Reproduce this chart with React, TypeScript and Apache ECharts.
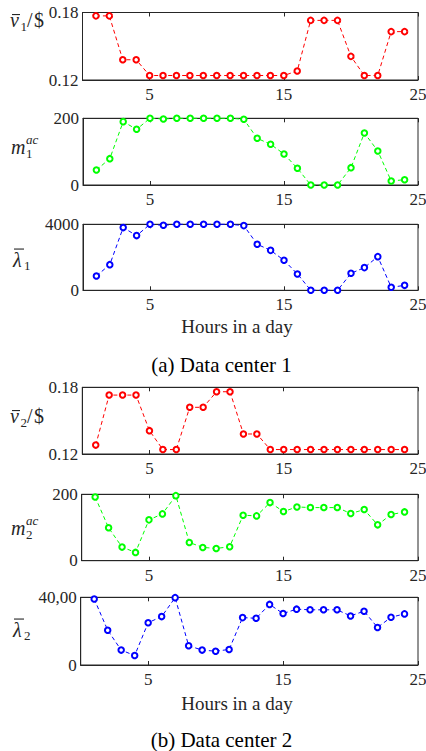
import React, { useEffect, useRef } from "react";
import * as echarts from "echarts";

// ---------- data ----------
const hours = [1, 2, 3, 4, 5, 6, 7, 8, 9, 10, 11, 12, 13, 14, 15, 16, 17, 18, 19, 20, 21, 22, 23, 24];

const price1 = [0.177, 0.177, 0.138, 0.138, 0.124, 0.124, 0.124, 0.124, 0.124, 0.124, 0.124, 0.124, 0.124, 0.124, 0.124, 0.128, 0.173, 0.173, 0.173, 0.141, 0.124, 0.124, 0.163, 0.163];
const ac1 = [45, 79, 190, 167, 200, 198, 200, 200, 200, 200, 200, 197, 140, 122, 93, 50, 0, 0, 0, 52, 156, 102, 12, 16];
const lambda1 = [870, 1555, 3800, 3315, 4000, 3940, 4000, 4000, 4000, 4000, 4000, 3920, 2790, 2420, 1820, 990, 0, 0, 0, 1030, 1375, 2040, 180, 300];

const price2 = [0.128, 0.173, 0.173, 0.173, 0.141, 0.124, 0.124, 0.162, 0.162, 0.176, 0.176, 0.138, 0.138, 0.124, 0.124, 0.124, 0.124, 0.124, 0.124, 0.124, 0.124, 0.124, 0.124, 0.124];
const ac2 = [192, 99, 41, 25, 123, 141, 196, 55, 40, 37, 42, 137, 135, 175, 148, 162, 160, 160, 160, 142, 154, 108, 139, 147];
const lambda2 = [3900, 2057, 880, 560, 2500, 2860, 3980, 1140, 880, 816, 918, 2800, 2760, 3580, 3040, 3300, 3260, 3260, 3260, 2900, 3180, 2220, 2820, 3020];

const xTickValues = [5, 15, 25];
const priceTicks = [0.12, 0.18];
const priceTickLabels = ["0.12", "0.18"];
const acTicks = [0, 200];
const acTickLabels = ["0", "200"];
const lambdaTicks = [0, 4000];
const lambda1TickLabels = ["0", "4000"];
const lambda2TickLabels = ["0", "40,00"];

const xAxisTitle = "Hours in a day";
const captions = ["(a) Data center 1", "(b) Data center 2"];

// ---------- layout / style ----------
const SERIF = "Liberation Serif";
const INK = "#262626";
const RIGHT = 418;

const panels = [
  { data: price1, color: "#ff0000", ticks: priceTicks, labels: priceTickLabels, left: 82.5, top: 12.5, height: 67.5 },
  { data: ac1, color: "#00ff00", ticks: acTicks, labels: acTickLabels, left: 83, top: 118.3, height: 66.7 },
  { data: lambda1, color: "#0000ff", ticks: lambdaTicks, labels: lambda1TickLabels, left: 83, top: 224.3, height: 66 },
  { data: price2, color: "#ff0000", ticks: priceTicks, labels: priceTickLabels, left: 82.3, top: 387.3, height: 66.7 },
  { data: ac2, color: "#00ff00", ticks: acTicks, labels: acTickLabels, left: 81.7, top: 494.3, height: 66.4 },
  { data: lambda2, color: "#0000ff", ticks: lambdaTicks, labels: lambda2TickLabels, left: 80.7, top: 597.3, height: 67.7 },
];

function t(x: number, baseline: number, s: string, size: number, italic: boolean) {
  return {
    type: "text",
    x,
    y: baseline - 0.33 * size,
    silent: true,
    style: {
      text: s,
      fontSize: size,
      fontFamily: SERIF,
      fontStyle: italic ? "italic" : "normal",
      fill: INK,
      align: "left",
      verticalAlign: "middle",
    },
  };
}
function bar(x: number, y: number, w: number) {
  return { type: "rect", silent: true, shape: { x, y, width: w, height: 1.1 }, style: { fill: INK } };
}

function priceLabel(x: number, base: number, idx: string) {
  return [
    t(x, base, "v", 20, true),
    bar(x + 2, base - 13, 8),
    t(x + 10.5, base + 4, idx, 13, false),
    t(x + 17, base, "/", 20, false),
    t(x + 24, base, "$", 20, false),
  ];
}
function acLabel(x: number, base: number, idx: string) {
  return [
    t(x, base, "m", 20, true),
    t(x + 15, base - 10, "ac", 13, true),
    t(x + 15, base + 4, idx, 13, false),
  ];
}
function lambdaLabel(x: number, base: number, idx: string) {
  return [
    t(x, base, "λ", 20, true),
    bar(x + 1, base - 18, 10),
    t(x + 11, base + 3, idx, 13, false),
  ];
}

export default function App() {
  const ref = useRef<HTMLDivElement>(null);
  useEffect(() => {
    if (!ref.current) return;
    const chart = echarts.init(ref.current, null, { renderer: "svg" });

    const grid: any[] = [];
    const xAxis: any[] = [];
    const yAxis: any[] = [];
    const series: any[] = [];

    panels.forEach((p, i) => {
      grid.push({
        left: p.left,
        top: p.top,
        width: RIGHT - p.left,
        height: p.height,
        show: true,
        borderColor: INK,
        borderWidth: 1,
        backgroundColor: "transparent",
        containLabel: false,
        outerBoundsMode: "none",
      });
      const common = {
        type: "value",
        gridIndex: i,
        min: 0,
        max: 25,
        splitLine: { show: false },
        axisLine: { show: true, onZero: false, lineStyle: { color: INK, width: 1 } },
        axisTick: { show: true, inside: true, length: 4, customValues: xTickValues, lineStyle: { color: INK } },
      };
      xAxis.push({
        ...common,
        position: "bottom",
        axisLabel: {
          show: true,
          customValues: xTickValues,
          margin: 6,
          fontFamily: SERIF,
          fontSize: 17,
          color: INK,
          alignMinLabel: "center",
          alignMaxLabel: "center",
          hideOverlap: false,
        },
      });
      xAxis.push({ ...common, position: "top", axisLabel: { show: false } });
      const yMin = p.ticks[0];
      const yMax = p.ticks[p.ticks.length - 1];
      yAxis.push({
        type: "value",
        gridIndex: i,
        min: yMin,
        max: yMax,
        splitLine: { show: false },
        axisLine: { show: true, onZero: false, lineStyle: { color: INK, width: 1 } },
        axisTick: { show: true, inside: true, length: 4, customValues: p.ticks, lineStyle: { color: INK } },
        axisLabel: {
          show: true,
          customValues: p.ticks,
          margin: 4,
          fontFamily: SERIF,
          fontSize: 17,
          color: INK,
          formatter: (v: number) => {
            let best = 0;
            p.ticks.forEach((tv, k) => {
              if (Math.abs(tv - v) < Math.abs(p.ticks[best] - v)) best = k;
            });
            return p.labels[best];
          },
        },
      });
      series.push({
        type: "line",
        xAxisIndex: 2 * i,
        yAxisIndex: i,
        data: hours.map((h, j) => [h, p.data[j]]),
        symbol: "emptyCircle",
        symbolSize: 5.5,
        showSymbol: true,
        lineStyle: { color: p.color, width: 1, type: [4, 3] },
        itemStyle: { color: p.color, borderColor: p.color, borderWidth: 1 },
        clip: false,
      });
    });

    const graphic: any[] = [
      ...priceLabel(10, 27, "1"),
      ...acLabel(11, 154, "1"),
      ...lambdaLabel(13, 266.5, "1"),
      ...priceLabel(10, 423, "2"),
      ...acLabel(11, 535, "2"),
      ...lambdaLabel(13, 636.5, "2"),
      {
        type: "text", x: 237, y: 326, silent: true,
        style: { text: xAxisTitle, fontSize: 19, fontFamily: SERIF, fill: INK, align: "center", verticalAlign: "middle" },
      },
      {
        type: "text", x: 237, y: 703, silent: true,
        style: { text: xAxisTitle, fontSize: 19, fontFamily: SERIF, fill: INK, align: "center", verticalAlign: "middle" },
      },
      {
        type: "text", x: 221.5, y: 365, silent: true,
        style: { text: captions[0], fontSize: 21, fontFamily: SERIF, fill: "#000", align: "center", verticalAlign: "middle" },
      },
      {
        type: "text", x: 221.5, y: 739.5, silent: true,
        style: { text: captions[1], fontSize: 21, fontFamily: SERIF, fill: "#000", align: "center", verticalAlign: "middle" },
      },
    ];

    chart.setOption({
      animation: false,
      backgroundColor: "#ffffff",
      grid,
      xAxis,
      yAxis,
      series,
      graphic,
    });
    return () => chart.dispose();
  }, []);
  return <div ref={ref} style={{ position: "absolute", left: 0, top: 0, width: 426, height: 751 }} />;
}
